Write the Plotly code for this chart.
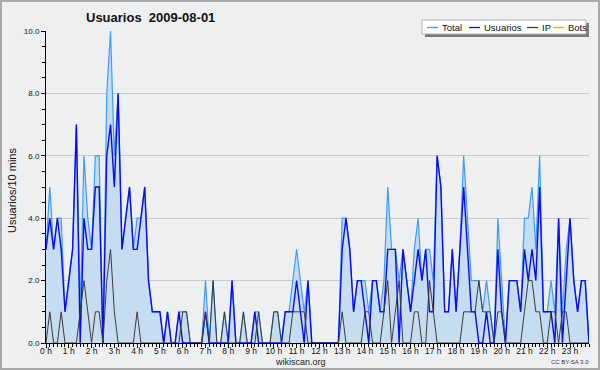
import plotly.graph_objects as go

# 10-minute bins over the day (144 bins)
hour_labels = ["%d h" % h for h in range(24)]

usuarios = [
    3, 4, 3, 4, 3, 1, 2, 3, 7, 0, 4, 3,
    3, 5, 5, 0, 6, 7, 5, 8, 3, 4, 5, 3,
    3, 4, 5, 2, 1, 1, 1, 0, 1, 0, 0, 1,
    0, 0, 0, 0, 0, 0, 1, 0, 0, 0, 0, 0,
    0, 2, 0, 0, 0, 0, 0, 1, 0, 0, 0, 0,
    0, 0, 0, 1, 1, 1, 2, 1, 0, 2, 0, 0,
    0, 0, 0, 0, 0, 0, 3, 4, 3, 1, 2, 2,
    1, 0, 2, 2, 1, 1, 3, 3, 3, 0, 3, 2,
    1, 2, 3, 2, 3, 1, 1, 6, 5, 1, 1, 3,
    1, 3, 5, 3, 1, 1, 0, 0, 1, 0, 0, 3,
    1, 0, 2, 2, 2, 1, 3, 2, 3, 2, 5, 1,
    1, 1, 0, 4, 0, 2, 4, 2, 1, 2, 2, 0,
]

ip = [
    0, 1, 0, 0, 1, 0, 0, 0, 0, 1, 2, 1,
    0, 1, 1, 0, 2, 3, 1, 0, 0, 0, 0, 0,
    1, 0, 0, 0, 0, 0, 0, 0, 0, 0, 0, 0,
    1, 1, 0, 0, 0, 0, 1, 0, 2, 0, 0, 1,
    0, 0, 0, 0, 1, 0, 0, 0, 1, 0, 0, 0,
    1, 1, 0, 0, 0, 1, 1, 1, 1, 0, 0, 0,
    0, 0, 0, 0, 0, 0, 1, 0, 0, 0, 0, 0,
    1, 1, 0, 0, 0, 1, 2, 0, 1, 2, 0, 0,
    0, 1, 1, 0, 0, 2, 1, 0, 0, 0, 0, 0,
    0, 0, 1, 1, 1, 1, 2, 1, 1, 1, 0, 1,
    1, 0, 0, 0, 0, 0, 1, 2, 2, 1, 1, 0,
    0, 1, 1, 0, 1, 1, 0, 0, 0, 0, 0, 0,
]

total = [
    3, 5, 3, 4, 4, 1, 2, 3, 7, 1, 6, 4,
    3, 6, 6, 0, 8, 10, 6, 8, 3, 4, 5, 3,
    4, 4, 5, 2, 1, 1, 1, 0, 1, 0, 0, 1,
    1, 1, 0, 0, 0, 0, 2, 0, 2, 0, 0, 1,
    0, 2, 0, 0, 1, 0, 0, 1, 1, 0, 0, 0,
    1, 1, 0, 1, 1, 2, 3, 2, 1, 2, 0, 0,
    0, 0, 0, 0, 0, 0, 4, 4, 3, 1, 2, 2,
    2, 1, 2, 2, 1, 2, 5, 3, 3, 2, 3, 2,
    1, 3, 4, 2, 3, 3, 2, 6, 5, 1, 1, 3,
    1, 3, 6, 4, 2, 2, 2, 1, 2, 1, 0, 4,
    2, 0, 2, 2, 2, 1, 4, 4, 5, 3, 6, 1,
    1, 2, 1, 4, 1, 3, 4, 2, 1, 2, 2, 0,
]

bots = [
    0, 0, 0, 0, 0, 0, 0, 0, 0, 0, 0, 0, 0, 0, 0, 0, 0, 0, 0, 0, 0, 0, 0, 0,
    0, 0, 0, 0, 0, 0, 0, 0, 0, 0, 0, 0, 0, 0, 0, 0, 0, 0, 0, 0, 0, 0, 0, 0,
    0, 0, 0, 0, 0, 0, 0, 0, 0, 0, 0, 0, 0, 0, 0, 0, 0, 0, 0, 0, 0, 0, 0, 0,
    0, 0, 0, 0, 0, 0, 0, 0, 0, 0, 0, 0, 0, 0, 0, 0, 0, 0, 0, 0, 0, 0, 0, 0,
    0, 0, 0, 0, 0, 0, 0, 0, 0, 0, 0, 0, 0, 0, 0, 0, 0, 0, 0, 0, 0, 0, 0, 0,
    0, 0, 0, 0, 0, 0, 0, 0, 0, 0, 0, 0, 0, 0, 0, 0, 0, 0, 0, 0, 0, 0, 0, 0,
]

x = list(range(len(total)))

W, H = 600, 370
L, R, T, B = 46, 11, 31, 27
PW, PH = W - L - R, H - T - B


def px(v):
    return (v - L) / PW


def py(v):
    return (H - B - v) / PH


BG = "#eeeff1"
FONT = "Liberation Sans"

fig = go.Figure()
fig.add_trace(go.Scatter(x=x, y=bots, mode="lines", line=dict(color="#ffa500", width=1),
                         name="Bots", showlegend=False))
fig.add_trace(go.Scatter(x=x, y=total, mode="lines", fill="tozeroy",
                         fillcolor="#c6dcf0", line=dict(color="#3d9df5", width=1.2),
                         name="Total", showlegend=False))
fig.add_trace(go.Scatter(x=x, y=usuarios, mode="lines", line=dict(color="#0a0af5", width=1.4),
                         name="Usuarios", showlegend=False))
fig.add_trace(go.Scatter(x=x, y=ip, mode="lines", line=dict(color="#3c3c3c", width=1),
                         name="IP", showlegend=False))

shapes = []
annotations = []

# outer frame
shapes.append(dict(type="rect", xref="paper", yref="paper",
                   x0=px(1), x1=px(599), y0=py(1), y1=py(369),
                   line=dict(color="#a8a8a8", width=2), fillcolor="rgba(0,0,0,0)", layer="above"))

# legend box with shadow
shapes.append(dict(type="rect", xref="paper", yref="paper",
                   x0=px(425), x1=px(589), y0=py(37), y1=py(23),
                   line=dict(width=0), fillcolor="#7a7a7a", layer="above"))
shapes.append(dict(type="rect", xref="paper", yref="paper",
                   x0=px(422), x1=px(586), y0=py(34), y1=py(20),
                   line=dict(color="#b0b0b0", width=1), fillcolor="white", layer="above"))

legend_items = [("Total", "#3d9df5", 427, 441), ("Usuarios", "#0a0af5", 469, 483),
                ("IP", "#3c3c3c", 527, 541), ("Bots", "#ffa500", 553, 567)]
for name, col, lx, tx in legend_items:
    shapes.append(dict(type="line", xref="paper", yref="paper",
                       x0=px(lx), x1=px(lx + 11), y0=py(27.5), y1=py(27.5),
                       line=dict(color=col, width=1.3), layer="above"))
    annotations.append(dict(text=name, xref="paper", yref="paper", x=px(tx), y=py(27.5),
                            xanchor="left", yanchor="middle", showarrow=False, borderpad=0,
                            font=dict(family=FONT, size=9.5, color="#111")))

# title
annotations.append(dict(text="<b>Usuarios\u00a0\u00a02009-08-01</b>", xref="paper", yref="paper",
                        x=px(150), y=py(18), xanchor="center", yanchor="middle", showarrow=False,
                        font=dict(family=FONT, size=13, color="#111")))
# y title
annotations.append(dict(text="Usuarios/10 mins", xref="paper", yref="paper",
                        x=px(12), y=py(190), xanchor="center", yanchor="middle", showarrow=False,
                        textangle=-90, font=dict(family=FONT, size=11, color="#111")))
annotations.append(dict(text="wikiscan.org", xref="paper", yref="paper",
                        x=px(300), y=py(362), xanchor="center", yanchor="middle", showarrow=False,
                        font=dict(family=FONT, size=9, color="#222")))
annotations.append(dict(text="CC BY-SA 3.0", xref="paper", yref="paper",
                        x=px(570), y=py(362), xanchor="center", yanchor="middle", showarrow=False,
                        font=dict(family=FONT, size=6, color="#333")))

fig.update_layout(
    width=W, height=H, autosize=False,
    margin=dict(l=L, r=R, t=T, b=B, pad=0),
    paper_bgcolor=BG, plot_bgcolor=BG,
    showlegend=False,
    shapes=shapes, annotations=annotations,
    xaxis=dict(range=[0, len(total) - 1], tickmode="array",
               tickvals=[6 * h for h in range(24)], ticktext=hour_labels,
               showgrid=False, zeroline=False, showline=True, linecolor="black", linewidth=1,
               ticks="outside", ticklen=4, tickcolor="black", ticklabelstandoff=-4,
               minor=dict(dtick=1, tick0=0, ticklen=3, tickcolor="black", ticks="outside", showgrid=False),
               tickfont=dict(family=FONT, size=8.5, color="#111"), automargin=False, fixedrange=True),
    yaxis=dict(range=[0, 10], tickmode="linear", tick0=0, dtick=2, tickformat=".1f",
               showgrid=True, gridcolor="#c9c9c9", gridwidth=1, zeroline=False,
               showline=True, linecolor="black", linewidth=1,
               ticks="outside", ticklen=4, tickcolor="black",
               minor=dict(dtick=0.5, tick0=0, ticklen=3, tickcolor="black", ticks="outside", showgrid=False),
               tickfont=dict(family=FONT, size=8, color="#111"), automargin=False, fixedrange=True),
)

fig.write_html("out.html", config={"displayModeBar": False},
               post_script="document.body.style.margin='0px';document.body.style.overflow='hidden';")
